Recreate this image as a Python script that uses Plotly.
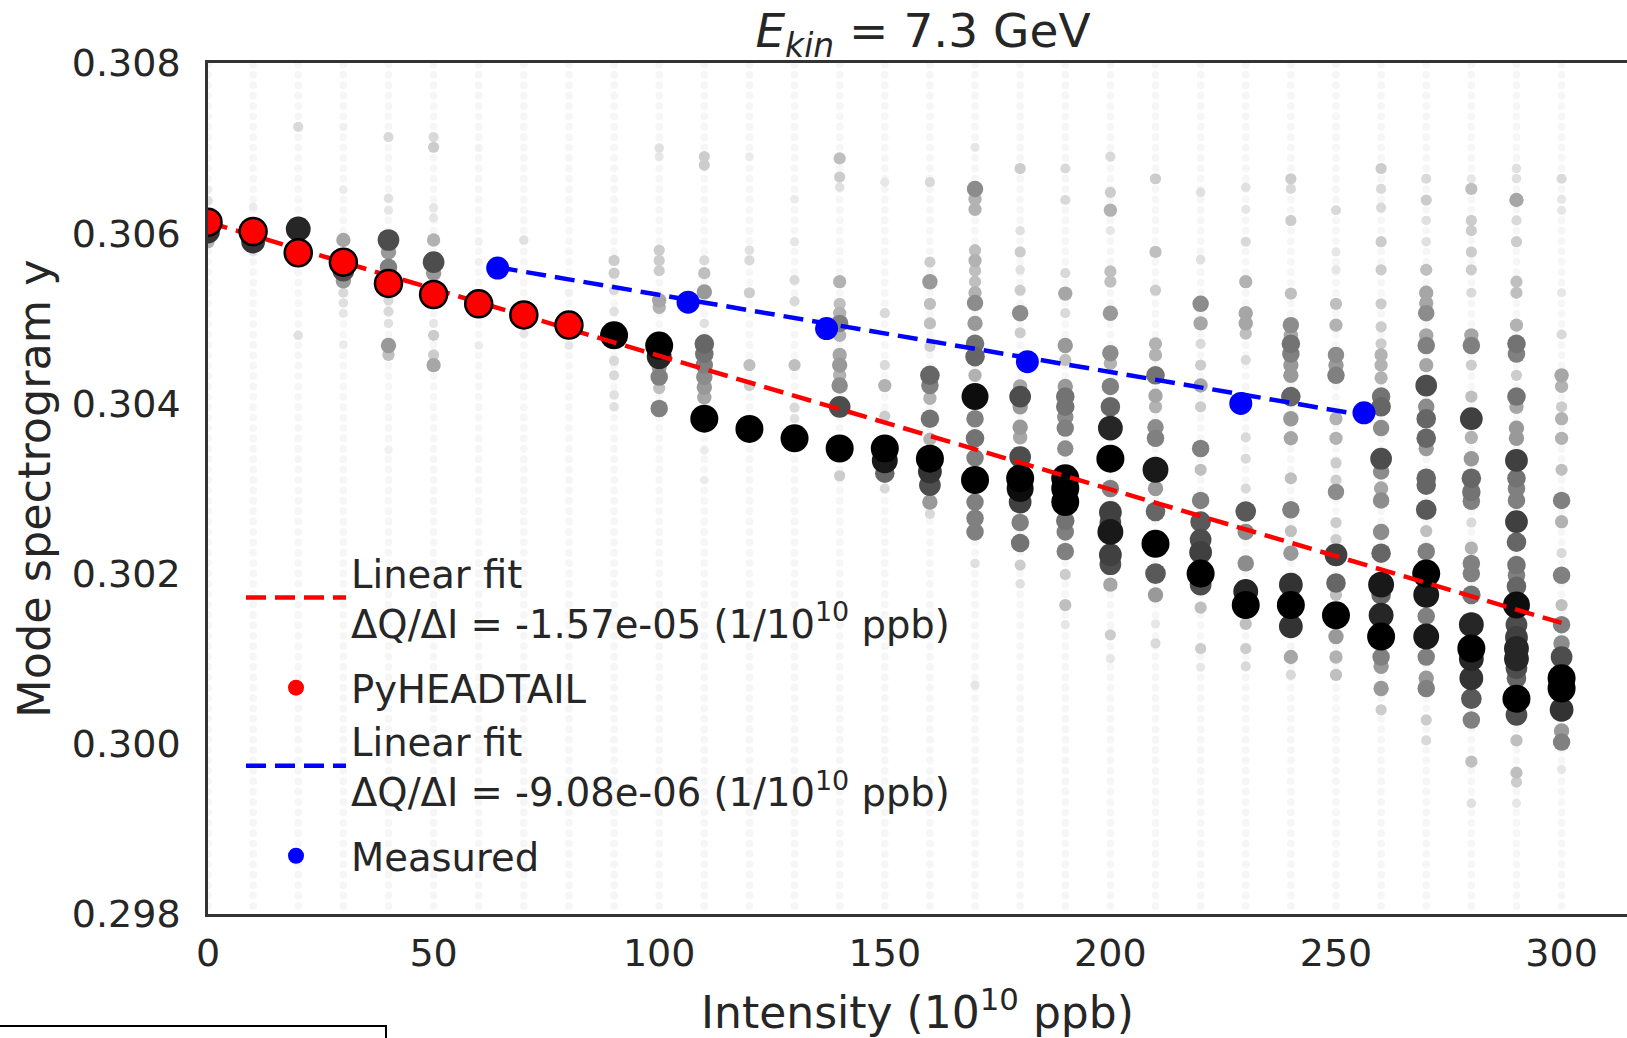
import numpy as np
import plotly.graph_objects as go

# ---------------- data ----------------
# Intensity columns of the spectrogram (10^10 ppb)
intensity_cols = [0, 10, 20, 30, 40, 50, 60, 70, 80, 90, 100, 110, 120, 130, 140, 150,
                  160, 170, 180, 190, 200, 210, 220, 230, 240, 250, 260, 270, 280, 290, 300]

# Visible spectrogram peaks per column: (tune, normalised amplitude 0..1)
peaks_000 = [(0.30614, 0.85), (0.30602, 0.8), (0.30590, 0.3), (0.30638, 0.12), (0.30651, 0.08)]
peaks_010 = [(0.30602, 0.2), (0.30590, 0.8), (0.30631, 0.08), (0.30578, 0.1)]
peaks_020 = [(0.30605, 0.85), (0.30577, 0.6), (0.30725, 0.15), (0.30480, 0.12), (0.30590, 0.3)]
peaks_030 = [(0.30592, 0.35), (0.30556, 0.7), (0.30544, 0.4), (0.30530, 0.15), (0.30518, 0.12),
             (0.30506, 0.1), (0.30469, 0.08), (0.30725, 0.06), (0.30651, 0.08)]
peaks_040 = [(0.30592, 0.7), (0.30578, 0.4), (0.30560, 0.5), (0.30713, 0.15), (0.30641, 0.12),
             (0.30627, 0.1), (0.30521, 0.15), (0.30508, 0.15), (0.30494, 0.12), (0.30468, 0.4),
             (0.30457, 0.25), (0.30345, 0.06)]
peaks_050 = [(0.30713, 0.15), (0.30701, 0.2), (0.30630, 0.1), (0.30618, 0.1), (0.30592, 0.3),
             (0.30566, 0.7), (0.30553, 0.4), (0.30480, 0.2), (0.30457, 0.2), (0.30445, 0.35),
             (0.30494, 0.1)]
peaks_060 = [(0.30468, 0.08), (0.30590, 0.06), (0.30566, 0.06), (0.30700, 0.05)]
peaks_070 = [(0.30592, 0.12), (0.30494, 0.1), (0.30482, 0.1)]
peaks_080 = [(0.30468, 0.1), (0.30480, 0.08), (0.30530, 0.06)]
peaks_090 = [(0.30480, 1.0), (0.30568, 0.2), (0.30553, 0.2), (0.30533, 0.15), (0.30450, 0.15),
             (0.30433, 0.15), (0.30410, 0.12), (0.30396, 0.12), (0.30508, 0.12)]
peaks_100 = [(0.30468, 1.0), (0.30455, 0.85), (0.30431, 0.5), (0.30394, 0.5), (0.30443, 0.4),
             (0.30580, 0.2), (0.30568, 0.2), (0.30556, 0.2), (0.30521, 0.35), (0.30513, 0.3),
             (0.30700, 0.12), (0.30690, 0.1), (0.30418, 0.25)]
peaks_110 = [(0.30382, 1.0), (0.30470, 0.6), (0.30458, 0.55), (0.30445, 0.5), (0.30431, 0.45),
             (0.30419, 0.4), (0.30407, 0.35), (0.30531, 0.4), (0.30553, 0.25), (0.30568, 0.15),
             (0.30690, 0.2), (0.30680, 0.2), (0.30310, 0.08), (0.30345, 0.08), (0.30494, 0.12)]
peaks_120 = [(0.30370, 1.0), (0.30445, 0.25), (0.30421, 0.2), (0.30530, 0.2), (0.30568, 0.15),
             (0.30580, 0.12), (0.30690, 0.08)]
peaks_130 = [(0.30359, 1.0), (0.30445, 0.25), (0.30545, 0.15), (0.30520, 0.15), (0.30395, 0.15),
             (0.30382, 0.12), (0.30590, 0.1), (0.30640, 0.08)]
peaks_140 = [(0.30347, 1.0), (0.30396, 0.7), (0.30421, 0.45), (0.30433, 0.3), (0.30445, 0.4),
             (0.30457, 0.35), (0.30494, 0.5), (0.30506, 0.3), (0.30517, 0.25), (0.30543, 0.3),
             (0.30688, 0.25), (0.30666, 0.2), (0.30654, 0.12), (0.30315, 0.2), (0.30480, 0.3)]
peaks_150 = [(0.30347, 1.0), (0.30333, 0.9), (0.30318, 0.6), (0.30421, 0.3), (0.30385, 0.2),
             (0.30506, 0.15), (0.30660, 0.1), (0.30300, 0.15), (0.30445, 0.15)]
peaks_160 = [(0.30660, 0.15), (0.30566, 0.2), (0.30543, 0.4), (0.30517, 0.25), (0.30494, 0.25),
             (0.30467, 0.2), (0.30433, 0.6), (0.30421, 0.5), (0.30382, 0.55), (0.30335, 1.0),
             (0.30320, 0.8), (0.30304, 0.7), (0.30284, 0.4), (0.30270, 0.15), (0.30406, 0.3),
             (0.30358, 0.3)]
peaks_170 = [(0.30701, 0.1), (0.30652, 0.45), (0.30640, 0.3), (0.30628, 0.3), (0.30568, 0.3),
             (0.30556, 0.25), (0.30543, 0.25), (0.30518, 0.45), (0.30494, 0.4), (0.30470, 0.55),
             (0.30455, 0.6), (0.30433, 0.3), (0.30408, 0.95), (0.30382, 0.5), (0.30359, 0.55),
             (0.30336, 0.5), (0.30310, 1.0), (0.30284, 0.5), (0.30265, 0.5), (0.30249, 0.5),
             (0.30212, 0.12), (0.30069, 0.1), (0.30580, 0.25), (0.30530, 0.3)]
peaks_180 = [(0.30676, 0.2), (0.30603, 0.12), (0.30578, 0.2), (0.30557, 0.12), (0.30533, 0.2),
             (0.30506, 0.45), (0.30483, 0.2), (0.30408, 0.7), (0.30372, 0.4), (0.30337, 0.7),
             (0.30312, 1.0), (0.30300, 0.95), (0.30284, 0.75), (0.30260, 0.5), (0.30236, 0.55),
             (0.30210, 0.2), (0.30188, 0.12), (0.30420, 0.35), (0.30396, 0.4), (0.30360, 0.35)]
peaks_190 = [(0.30676, 0.15), (0.30639, 0.15), (0.30529, 0.35), (0.30553, 0.15), (0.30506, 0.15),
             (0.30468, 0.4), (0.30451, 0.25), (0.30408, 0.55), (0.30396, 0.55), (0.30371, 0.5),
             (0.30347, 0.45), (0.30312, 1.0), (0.30300, 1.0), (0.30284, 1.0), (0.30262, 0.55),
             (0.30249, 0.5), (0.30226, 0.5), (0.30199, 0.2), (0.30163, 0.25), (0.30140, 0.1),
             (0.30420, 0.4), (0.30384, 0.45)]
peaks_200 = [(0.30690, 0.15), (0.30648, 0.2), (0.30627, 0.3), (0.30603, 0.1), (0.30555, 0.25),
             (0.30543, 0.25), (0.30506, 0.4), (0.30459, 0.45), (0.30447, 0.3), (0.30396, 0.6),
             (0.30371, 0.85), (0.30335, 1.0), (0.30272, 0.75), (0.30260, 0.7), (0.30249, 0.9),
             (0.30222, 0.75), (0.30211, 0.7), (0.30187, 0.35), (0.30128, 0.2), (0.30100, 0.1),
             (0.30420, 0.5), (0.30300, 0.5)]
peaks_210 = [(0.30664, 0.2), (0.30578, 0.25), (0.30533, 0.2), (0.30470, 0.3), (0.30457, 0.3),
             (0.30433, 0.55), (0.30372, 0.45), (0.30359, 0.5), (0.30322, 0.9), (0.30300, 0.4),
             (0.30273, 0.6), (0.30235, 1.0), (0.30200, 0.65), (0.30175, 0.4), (0.30141, 0.1),
             (0.30118, 0.15), (0.30409, 0.35), (0.30396, 0.3)]
peaks_220 = [(0.30648, 0.12), (0.30569, 0.12), (0.30517, 0.45), (0.30494, 0.35), (0.30445, 0.2),
             (0.30421, 0.35), (0.30396, 0.2), (0.30347, 0.5), (0.30322, 0.25), (0.30286, 0.5),
             (0.30261, 0.65), (0.30240, 0.7), (0.30225, 0.75), (0.30200, 1.0), (0.30187, 0.7),
             (0.30160, 0.25), (0.30112, 0.2), (0.30090, 0.1), (0.30470, 0.15)]
peaks_230 = [(0.30654, 0.12), (0.30543, 0.3), (0.30506, 0.35), (0.30494, 0.35), (0.30482, 0.25),
             (0.30451, 0.15), (0.30360, 0.15), (0.30335, 0.15), (0.30300, 0.15), (0.30273, 0.65),
             (0.30249, 0.45), (0.30212, 0.45), (0.30179, 0.85), (0.30163, 1.0), (0.30141, 0.25),
             (0.30112, 0.2), (0.30091, 0.15), (0.30590, 0.15), (0.30628, 0.1)]
peaks_240 = [(0.30664, 0.2), (0.30652, 0.15), (0.30615, 0.2), (0.30529, 0.25), (0.30492, 0.45),
             (0.30470, 0.55), (0.30458, 0.5), (0.30433, 0.4), (0.30408, 0.6), (0.30382, 0.4),
             (0.30359, 0.35), (0.30312, 0.25), (0.30275, 0.5), (0.30224, 0.4), (0.30187, 0.8),
             (0.30163, 1.0), (0.30138, 0.8), (0.30102, 0.35), (0.30081, 0.15), (0.30250, 0.25),
             (0.30445, 0.4), (0.30480, 0.35)]
peaks_250 = [(0.30627, 0.15), (0.30578, 0.1), (0.30557, 0.1), (0.30517, 0.25), (0.30492, 0.3),
             (0.30457, 0.45), (0.30433, 0.5), (0.30445, 0.4), (0.30382, 0.3), (0.30359, 0.3),
             (0.30330, 0.2), (0.30310, 0.2), (0.30296, 0.45), (0.30222, 0.75), (0.30189, 0.6),
             (0.30151, 1.0), (0.30126, 0.4), (0.30102, 0.3), (0.30081, 0.25), (0.30260, 0.2),
             (0.30240, 0.2), (0.30175, 0.25)]
peaks_260 = [(0.30676, 0.2), (0.30652, 0.15), (0.30630, 0.15), (0.30590, 0.2), (0.30557, 0.2),
             (0.30517, 0.2), (0.30490, 0.2), (0.30470, 0.2), (0.30457, 0.3), (0.30408, 0.55),
             (0.30396, 0.6), (0.30371, 0.45), (0.30335, 0.7), (0.30286, 0.45), (0.30249, 0.45),
             (0.30224, 0.6), (0.30187, 0.9), (0.30175, 0.6), (0.30151, 0.85), (0.30126, 1.0),
             (0.30102, 0.5), (0.30091, 0.4), (0.30065, 0.4), (0.30040, 0.2), (0.30320, 0.45),
             (0.30300, 0.35), (0.30430, 0.3), (0.30445, 0.3)]
peaks_270 = [(0.30664, 0.15), (0.30639, 0.2), (0.30615, 0.12), (0.30590, 0.12), (0.30557, 0.25),
             (0.30530, 0.35), (0.30518, 0.35), (0.30506, 0.45), (0.30468, 0.5), (0.30421, 0.7),
             (0.30382, 0.6), (0.30359, 0.6), (0.30347, 0.4), (0.30312, 0.6), (0.30304, 0.6),
             (0.30275, 0.65), (0.30250, 0.25), (0.30226, 0.5), (0.30200, 1.0), (0.30175, 0.9),
             (0.30150, 0.5), (0.30126, 0.9), (0.30102, 0.5), (0.30077, 0.4), (0.30065, 0.5),
             (0.30028, 0.2), (0.30004, 0.15), (0.30445, 0.35), (0.30396, 0.45), (0.30480, 0.35)]
peaks_280 = [(0.30664, 0.1), (0.30652, 0.25), (0.30615, 0.2), (0.30603, 0.2), (0.30578, 0.2),
             (0.30557, 0.2), (0.30530, 0.15), (0.30480, 0.35), (0.30468, 0.5), (0.30445, 0.2),
             (0.30408, 0.25), (0.30382, 0.75), (0.30335, 0.4), (0.30312, 0.6), (0.30296, 0.55),
             (0.30285, 0.5), (0.30260, 0.15), (0.30212, 0.5), (0.30200, 0.5), (0.30175, 0.55),
             (0.30140, 0.85), (0.30112, 1.0), (0.30100, 0.85), (0.30077, 0.8), (0.30053, 0.65),
             (0.30028, 0.5), (0.29979, 0.25), (0.29930, 0.12), (0.30360, 0.3), (0.30230, 0.3)]
peaks_290 = [(0.30676, 0.12), (0.30664, 0.12), (0.30639, 0.35), (0.30615, 0.15), (0.30590, 0.2),
             (0.30543, 0.25), (0.30530, 0.25), (0.30492, 0.3), (0.30470, 0.55), (0.30458, 0.5),
             (0.30433, 0.2), (0.30408, 0.55), (0.30396, 0.35), (0.30371, 0.4), (0.30359, 0.4),
             (0.30333, 0.75), (0.30312, 0.55), (0.30300, 0.5), (0.30286, 0.5), (0.30261, 0.75),
             (0.30237, 0.6), (0.30210, 0.55), (0.30198, 0.5), (0.30163, 0.95), (0.30140, 0.7),
             (0.30112, 0.85), (0.30100, 0.85), (0.30077, 0.6), (0.30053, 1.0), (0.30034, 0.7),
             (0.30004, 0.25), (0.29966, 0.25), (0.29955, 0.2), (0.29930, 0.1), (0.30185, 0.6),
             (0.30125, 0.75), (0.30089, 0.7)]
peaks_300 = [(0.30664, 0.15), (0.30640, 0.1), (0.30627, 0.1), (0.30530, 0.1), (0.30481, 0.15),
             (0.30433, 0.35), (0.30382, 0.3), (0.30359, 0.3), (0.30322, 0.25), (0.30286, 0.5),
             (0.30261, 0.3), (0.30224, 0.15), (0.30198, 0.5), (0.30163, 0.25), (0.30140, 0.5),
             (0.30102, 0.7), (0.30077, 1.0), (0.30065, 1.0), (0.30040, 0.8), (0.30002, 0.5),
             (0.29970, 0.1), (0.30420, 0.3), (0.30396, 0.2), (0.30118, 0.45), (0.30015, 0.4)]

column_peaks = [peaks_000, peaks_010, peaks_020, peaks_030, peaks_040, peaks_050, peaks_060,
                peaks_070, peaks_080, peaks_090, peaks_100, peaks_110, peaks_120, peaks_130,
                peaks_140, peaks_150, peaks_160, peaks_170, peaks_180, peaks_190, peaks_200,
                peaks_210, peaks_220, peaks_230, peaks_240, peaks_250, peaks_260, peaks_270,
                peaks_280, peaks_290, peaks_300]

# spectrogram frequency grid (FFT bins of 1/8192) and faint floor amplitude
fft_bins = np.arange(2442, 2524) / 8192.0
floor_amp = 0.035

# PyHEADTAIL simulation points
pyht_I = [0, 10, 20, 30, 40, 50, 60, 70, 80]
pyht_Q = [0.30613, 0.30602, 0.30577, 0.30566, 0.30541, 0.30528, 0.30517, 0.30504, 0.30492]
# linear fit of PyHEADTAIL
fit_red_I = [0, 300]
fit_red_Q = [0.30613, 0.30142]
fit_red_label = "Linear fit<br>ΔQ/ΔI = -1.57e-05 (1/10<sup>10</sup> ppb)"

# measured points
meas_I = [64.2, 106.4, 137.1, 181.6, 228.9, 256.2]
meas_Q = [0.30559, 0.30519, 0.30488, 0.30449, 0.30400, 0.30389]
fit_blue_I = [64.2, 256.2]
fit_blue_Q = [0.30560, 0.30386]
fit_blue_label = "Linear fit<br>ΔQ/ΔI = -9.08e-06 (1/10<sup>10</sup> ppb)"

x_ticks = [0, 50, 100, 150, 200, 250, 300]
y_ticks = [0.298, 0.300, 0.302, 0.304, 0.306, 0.308]
y_ticktext = ["0.298", "0.300", "0.302", "0.304", "0.306", "0.308"]

# ---------------- build ----------------
def grey(a):
    g = int(round(255 * (1 - a)))
    return f"rgb({g},{g},{g})"

def size_of(a):
    return 7 + 21 * a

bg_x, bg_y = [], []
for I in intensity_cols:
    for q in fft_bins:
        bg_x.append(I)
        bg_y.append(q)

pk = []
for I, plist in zip(intensity_cols, column_peaks):
    for q, a in plist:
        pk.append((a, I, q))
pk.sort()
pk_x = [p[1] for p in pk]
pk_y = [p[2] for p in pk]
pk_c = [grey(p[0]) for p in pk]
pk_s = [size_of(p[0]) for p in pk]

TXT = "#262626"
FONT = "DejaVu Sans"
DASH = "20px,9px"

fig = go.Figure()
fig.add_trace(go.Scatter(x=bg_x, y=bg_y, mode="markers", showlegend=False, hoverinfo="skip",
                         marker=dict(size=size_of(floor_amp), color=grey(floor_amp), opacity=1,
                                     line=dict(width=0))))
fig.add_trace(go.Scatter(x=pk_x, y=pk_y, mode="markers", showlegend=False, hoverinfo="skip",
                         marker=dict(size=pk_s, color=pk_c, opacity=1, line=dict(width=0))))
fig.add_trace(go.Scatter(x=fit_red_I, y=fit_red_Q, mode="lines", name=fit_red_label,
                         legendgroup="g1",
                         line=dict(color="red", width=4.5, dash=DASH)))
# data markers (outlined) and a plain legend entry, as in the original legend
fig.add_trace(go.Scatter(x=pyht_I, y=pyht_Q, mode="markers", name="PyHEADTAIL", showlegend=False,
                         marker=dict(size=27, color="red", opacity=1,
                                     line=dict(color="black", width=2.5))))
fig.add_trace(go.Scatter(x=[None], y=[None], mode="markers", name="PyHEADTAIL", legendgroup="g2",
                         marker=dict(size=22, color="red", line=dict(width=0))))
fig.add_trace(go.Scatter(x=fit_blue_I, y=fit_blue_Q, mode="lines", name=fit_blue_label,
                         legendgroup="g2",
                         line=dict(color="blue", width=4.5, dash=DASH)))
fig.add_trace(go.Scatter(x=meas_I, y=meas_Q, mode="markers", name="Measured", legendgroup="g3",
                         marker=dict(size=23, color="blue", opacity=1, line=dict(width=0))))

W, H = 1627, 1038
ML, MT, MB = 208, 63, 124
PW, PH = W - ML, H - MT - MB

def px_x(p):
    return (p - ML) / PW

def px_y(p):
    return (MT + PH - p) / PH

fig.update_layout(
    width=W, height=H,
    margin=dict(l=ML, r=0, t=MT, b=MB, pad=0),
    paper_bgcolor="white", plot_bgcolor="white",
    font=dict(family=FONT, color=TXT, size=38),
    title=dict(text="<i>E</i><sub><i>kin</i></sub> = 7.3 GeV", font=dict(size=47, color=TXT),
               xref="paper", x=px_x(923), xanchor="center",
               yref="container", y=1 - 31 / H, yanchor="middle"),
    xaxis=dict(range=[0, 314.5], tickvals=x_ticks, ticks="", showgrid=False, zeroline=False,
               showline=True, linecolor="#333333", linewidth=2.5, mirror=True,
               tickfont=dict(size=38, color=TXT), ticklabelstandoff=4,
               title=dict(text="Intensity (10<sup>10</sup> ppb)", font=dict(size=44, color=TXT),
                          standoff=28)),
    yaxis=dict(range=[0.298, 0.308], tickvals=y_ticks, ticktext=y_ticktext, ticks="",
               showgrid=False, zeroline=False, showline=True, linecolor="#333333",
               linewidth=2.5, mirror=False, tickfont=dict(size=38, color=TXT),
               ticklabelstandoff=17,
               title=dict(text="Mode spectrogram y", font=dict(size=44.5, color=TXT), standoff=8)),
    legend=dict(x=px_x(241), y=px_y(541), xanchor="left", yanchor="top",
                bgcolor="rgba(0,0,0,0)", borderwidth=0, font=dict(size=38.5, color=TXT),
                itemwidth=100, valign="middle", traceorder="grouped", tracegroupgap=12),
    shapes=[dict(type="rect", xref="paper", yref="paper",
                 x0=px_x(-5), x1=px_x(386), y0=px_y(1026), y1=px_y(1070),
                 line=dict(color="black", width=2), fillcolor="rgba(0,0,0,0)")],
)

fig.write_html("out.html")
